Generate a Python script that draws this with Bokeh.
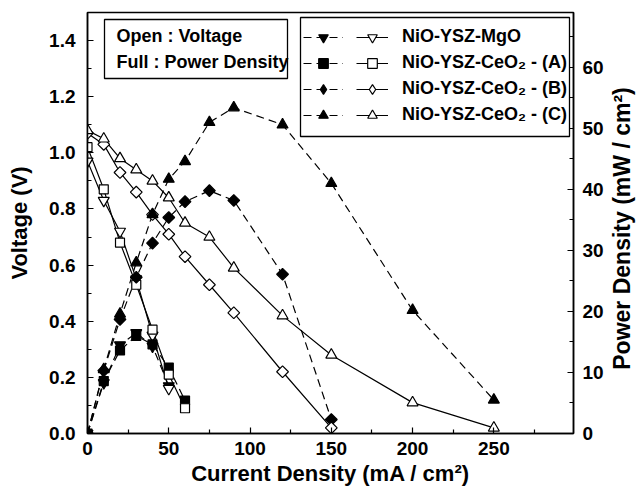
import math
from bokeh.plotting import figure
from bokeh.models import (Range1d, LinearAxis, FixedTicker, PrintfTickFormatter,
                          Legend, LegendItem, BoxAnnotation, Label)
from bokeh.embed import file_html
from bokeh.resources import INLINE

# ---------------- data ----------------
current_mgo = [0, 10, 20, 30, 40, 50]
voltage_mgo = [0.97, 0.83, 0.72, 0.55, 0.35, 0.16]
power_mgo = [0.0, 8.3, 14.5, 16.5, 14.3, 7.8]

current_a = [0, 10, 20, 30, 40, 50, 60]
voltage_a = [1.02, 0.87, 0.68, 0.53, 0.37, 0.21, 0.09]
power_a = [0.0, 8.6, 13.6, 16.0, 14.6, 10.8, 5.4]

current_b = [0, 10, 20, 30, 40, 50, 60, 75, 90, 120, 150]
voltage_b = [1.07, 1.03, 0.93, 0.86, 0.78, 0.71, 0.63, 0.53, 0.43, 0.22, 0.02]
power_b = [0.0, 10.3, 18.7, 25.6, 31.2, 35.4, 38.0, 39.8, 38.2, 26.1, 2.3]

current_c = [0, 10, 20, 30, 40, 50, 60, 75, 90, 120, 150, 200, 250]
voltage_c = [1.08, 1.05, 0.98, 0.94, 0.90, 0.84, 0.75, 0.70, 0.59, 0.42, 0.28, 0.11, 0.02]
power_c = [0.0, 10.5, 19.6, 28.0, 35.9, 41.7, 44.6, 51.0, 53.4, 50.6, 41.0, 20.2, 5.5]

series_labels = ["NiO-YSZ-MgO", "NiO-YSZ-CeO\u2082 - (A)",
                 "NiO-YSZ-CeO\u2082 - (B)", "NiO-YSZ-CeO\u2082 - (C)"]
note_lines = ["Open : Voltage", "Full : Power Density"]

x_ticks = [0, 50, 100, 150, 200, 250]
x_minor = [25, 75, 125, 175, 225, 275]
v_ticks = [0.0, 0.2, 0.4, 0.6, 0.8, 1.0, 1.2, 1.4]
v_minor = [0.1, 0.3, 0.5, 0.7, 0.9, 1.1, 1.3]
p_ticks = [0, 10, 20, 30, 40, 50, 60]
p_minor = [5, 15, 25, 35, 45, 55, 65]

x_title = "Current Density (mA / cm\u00b2)"
v_title = "Voltage (V)"
p_title = "Power Density (mW / cm\u00b2)"

FONT = "Liberation Sans"

# ---------------- figure ----------------
p = figure(width=636, height=490, output_backend="svg", toolbar_location=None,
           x_range=Range1d(0, 299), y_range=Range1d(0, 1.5),
           min_border_left=87, min_border_right=63, min_border_top=12,
           min_border_bottom=57, x_axis_label=x_title, y_axis_label=v_title)
p.extra_y_ranges = {"power": Range1d(0, 69)}
p.xgrid.visible = False
p.ygrid.visible = False
p.outline_line_color = "black"
p.outline_line_width = 1.5
p.background_fill_color = "white"
p.border_fill_color = "white"

ax_r = LinearAxis(y_range_name="power")
p.add_layout(ax_r, "right")

ax_x = p.xaxis[0]
ax_y = p.yaxis[0]
ax_x.ticker = FixedTicker(ticks=x_ticks, minor_ticks=x_minor)
ax_y.ticker = FixedTicker(ticks=v_ticks, minor_ticks=v_minor)
ax_y.formatter = PrintfTickFormatter(format="%.1f")
ax_r.ticker = FixedTicker(ticks=p_ticks, minor_ticks=p_minor)

for ax in (ax_x, ax_y, ax_r):
    ax.axis_line_color = "black"
    ax.axis_line_width = 1.5
    ax.major_tick_line_color = "black"
    ax.minor_tick_line_color = "black"
    ax.major_tick_line_width = 1.2
    ax.minor_tick_line_width = 1.2
    ax.major_tick_in = 6
    ax.major_tick_out = 0
    ax.minor_tick_in = 4
    ax.minor_tick_out = 0
    ax.major_label_text_font = FONT
    ax.major_label_text_font_style = "bold"
    ax.major_label_text_font_size = "19px"
    ax.major_label_text_color = "black"
    ax.axis_label_text_font = FONT
    ax.axis_label_text_font_style = "bold"
    ax.axis_label_text_font_size = "22px"
    ax.axis_label_text_color = "black"

ax_x.major_label_standoff = 8
ax_x.axis_label_standoff = 3
ax_y.major_label_standoff = 12
ax_y.axis_label_standoff = 14
ax_r.major_label_standoff = 9

# right-hand title, reading upward like the left one (kept in a side panel so
# that it is not clipped to the data frame; position is relative to that panel)
p.add_layout(Label(x=15, y=205, x_units="screen", y_units="screen",
                   text=p_title, angle=math.pi / 2,
                   text_font=FONT, text_font_style="bold",
                   text_font_size="23px", text_color="black",
                   text_align="center", text_baseline="middle"), "right")

# ---------------- series ----------------
series = [
    (current_mgo, voltage_mgo, power_mgo, "inverted_triangle", 11, 0.0, "inverted_triangle"),
    (current_a, voltage_a, power_a, "square", 9, 0.0, "square"),
    (current_b, voltage_b, power_b, "square", 8.3, math.pi / 4, "diamond"),
    (current_c, voltage_c, power_c, "triangle", 11, 0.0, "triangle"),
]

lines = []
for cur, volt, powr, mk, sz, ang, lmk in series:
    vl = p.line(cur, volt, line_color="black", line_width=1.2)
    pl = p.line(cur, powr, line_color="black", line_width=1.2, line_dash="8 5",
                y_range_name="power")
    lines.append((vl, pl))

p_items = []
v_items = []
for (cur, volt, powr, mk, sz, ang, lmk), (vl, pl), lab in zip(series, lines, series_labels):
    ps = p.scatter(cur, powr, marker=mk, size=sz, angle=ang, fill_color="black",
                   line_color="black", line_width=1.2, y_range_name="power")
    vs = p.scatter(cur, volt, marker=mk, size=sz, angle=ang, fill_color="white",
                   line_color="black", line_width=1.2)
    if lmk != mk:
        # hidden copies with the key's marker shape, used only by the legend
        ps = p.scatter(cur, powr, marker=lmk, fill_color="black", line_color="black",
                       line_width=1.2, y_range_name="power", visible=False)
        vs = p.scatter(cur, volt, marker=lmk, fill_color="white", line_color="black",
                       line_width=1.2, visible=False)
    p_items.append(LegendItem(label=" ", renderers=[pl, ps]))
    v_items.append(LegendItem(label=lab, renderers=[vl, vs]))

# ---------------- annotation boxes ----------------
legend_box = BoxAnnotation(left=213, right=482, bottom=297, top=416,
                           left_units="screen", right_units="screen",
                           bottom_units="screen", top_units="screen",
                           fill_color="white", fill_alpha=1.0,
                           line_color="black", line_width=1.3, line_alpha=1.0)
p.add_layout(legend_box)

note_box = BoxAnnotation(left=17, right=200, bottom=355, top=414,
                         left_units="screen", right_units="screen",
                         bottom_units="screen", top_units="screen",
                         fill_color="white", fill_alpha=1.0,
                         line_color="black", line_width=1.3, line_alpha=1.0)
p.add_layout(note_box)

for txt, yy in zip(note_lines, [398, 372]):
    p.add_layout(Label(x=29, y=yy, x_units="screen", y_units="screen", text=txt,
                       text_font=FONT, text_font_style="bold",
                       text_font_size="18px", text_color="black",
                       text_baseline="middle", text_align="left"))

common = dict(border_line_alpha=0, background_fill_alpha=0, padding=0, margin=0,
              glyph_height=24, label_height=24, spacing=2,
              inactive_fill_alpha=0)
leg_filled = Legend(items=p_items, location=(216, 306.5), glyph_width=40,
                    label_width=0, label_standoff=0, label_text_font_size="8px",
                    **common)
leg_open = Legend(items=v_items, location=(269, 306.5), glyph_width=32,
                  label_standoff=14, label_text_font=FONT,
                  label_text_font_style="bold", label_text_font_size="18px",
                  label_text_color="black", **common)
p.add_layout(leg_filled)
p.add_layout(leg_open)

open("out.html", "w").write(file_html(p, INLINE))
